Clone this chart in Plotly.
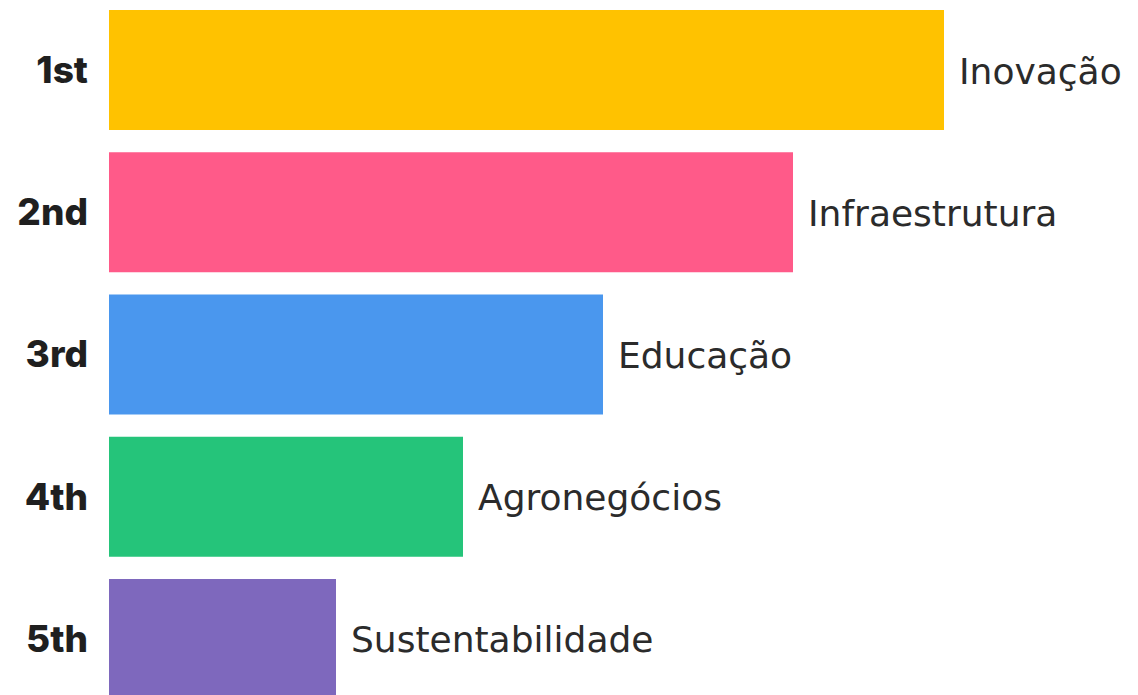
import plotly.graph_objects as go

ranks = ['1st', '2nd', '3rd', '4th', '5th']
areas = ['Inovação', 'Infraestrutura', 'Educação', 'Agronegócios', 'Sustentabilidade']
values = [83.5, 68.4, 49.4, 35.4, 22.7]
colors = ['#FFC200', '#FF5A89', '#4A97EE', '#25C47A', '#7E68BD']

fig = go.Figure(go.Bar(
    x=values,
    y=ranks,
    orientation='h',
    marker=dict(color=colors, line=dict(width=0)),
    width=0.845,
    hoverinfo='skip',
))

# labels to the right of each bar
for r, v, a in zip(ranks, values, areas):
    fig.add_annotation(x=v, y=r, text=a, showarrow=False,
                       xanchor='left', xshift=13, yshift=-1,
                       font=dict(family='DejaVu Sans', size=36, color='#2b2b2b'))

fig.update_layout(
    width=1138, height=695,
    margin=dict(l=101, r=0, t=0, b=0),
    plot_bgcolor='white', paper_bgcolor='white',
    showlegend=False,
    xaxis=dict(range=[0, 103.7], visible=False, fixedrange=True),
    yaxis=dict(
        categoryorder='array', categoryarray=ranks,
        range=[4.450, -0.436], autorange=False,
        showgrid=False, zeroline=False, showline=False,
        ticks='', ticklabelstandoff=20,
        tickfont=dict(family='Inter', size=37, color='#1f1f1f', weight=800),
    ),
)

fig.write_html('out.html')
